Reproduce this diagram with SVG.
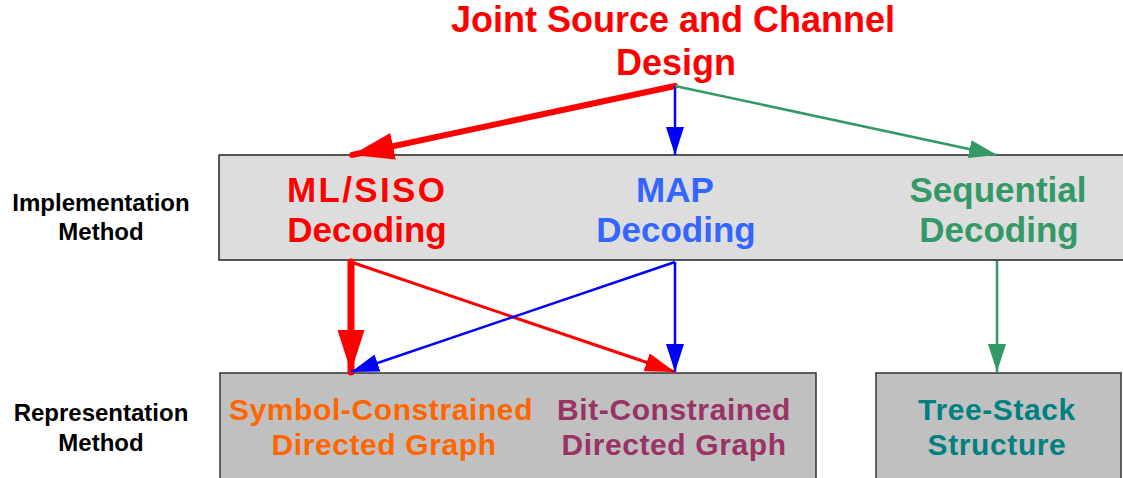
<svg xmlns="http://www.w3.org/2000/svg" width="1123" height="478" viewBox="0 0 1123 478">
  <style>
    text { font-family: "Liberation Sans", Arial, sans-serif; font-weight: bold; text-anchor: middle; }
    .title { font-size: 36px; fill: #FF0000; }
    .impl { font-size: 35px; }
    .repr { font-size: 30px; letter-spacing: 0.6px; }
    .side { font-size: 24px; fill: #000; }
    .box-impl { fill: #DDDDDD; stroke: #222; stroke-width: 1.5; }
    .box-repr { fill: #C0C0C0; stroke: #333; stroke-width: 1.5; }
    .edge { fill: none; }
  </style>
  <defs>
    <marker id="head-red-thick" markerUnits="userSpaceOnUse" viewBox="0 0 42 27" refX="42" refY="13.5" markerWidth="42" markerHeight="27" orient="auto">
      <path d="M0,0 L42,13.5 L0,27 z" fill="#FF0000"/>
    </marker>
    <marker id="head-red" markerUnits="userSpaceOnUse" viewBox="0 0 30 19" refX="30" refY="9.5" markerWidth="30" markerHeight="19" orient="auto">
      <path d="M0,0 L30,9.5 L0,19 z" fill="#FF0000"/>
    </marker>
    <marker id="head-blue" markerUnits="userSpaceOnUse" viewBox="0 0 28 18" refX="28" refY="9" markerWidth="28" markerHeight="18" orient="auto">
      <path d="M0,0 L28,9 L0,18 z" fill="#0000FF"/>
    </marker>
    <marker id="head-green" markerUnits="userSpaceOnUse" viewBox="0 0 28 18" refX="28" refY="9" markerWidth="28" markerHeight="18" orient="auto">
      <path d="M0,0 L28,9 L0,18 z" fill="#339966"/>
    </marker>
  </defs>

  <rect width="1123" height="478" fill="#FFFFFF"/>

  <!-- row labels -->
  <g id="label-implementation">
    <text class="side" x="101" y="211">Implementation</text>
    <text class="side" x="101" y="240">Method</text>
  </g>
  <g id="label-representation">
    <text class="side" x="101" y="421">Representation</text>
    <text class="side" x="101" y="451">Method</text>
  </g>

  <!-- root -->
  <g id="joint-design">
    <text class="title" x="673" y="32">Joint Source and Channel</text>
    <text class="title" x="676" y="75">Design</text>
  </g>

  <!-- implementation layer -->
  <g id="implementation">
    <rect class="box-impl" x="219" y="155" width="915" height="105"/>
    <g id="ml-siso">
      <text class="impl" x="366" y="202" fill="#FF0000" textLength="158" lengthAdjust="spacing">ML/SISO</text>
      <text class="impl" x="367" y="242" fill="#FF0000">Decoding</text>
    </g>
    <g id="map">
      <text class="impl" x="675" y="202" fill="#3366FF">MAP</text>
      <text class="impl" x="676" y="242" fill="#3366FF">Decoding</text>
    </g>
    <g id="sequential">
      <text class="impl" x="998" y="202" fill="#339966">Sequential</text>
      <text class="impl" x="999" y="242" fill="#339966">Decoding</text>
    </g>
  </g>

  <!-- representation layer -->
  <g id="directed-graphs">
    <rect class="box-repr" x="220" y="373" width="596" height="120"/>
    <g id="symbol-graph">
      <text class="repr" x="381" y="420" fill="#FF6600">Symbol-Constrained</text>
      <text class="repr" x="384" y="455" fill="#FF6600">Directed Graph</text>
    </g>
    <g id="bit-graph">
      <text class="repr" x="674" y="420" fill="#993366">Bit-Constrained</text>
      <text class="repr" x="674" y="455" fill="#993366">Directed Graph</text>
    </g>
  </g>
  <g id="tree-stack">
    <rect class="box-repr" x="876" y="373" width="245" height="120"/>
    <text class="repr" x="997" y="420" fill="#008080">Tree-Stack</text>
    <text class="repr" x="997" y="455" fill="#008080">Structure</text>
  </g>

  <!-- connectors -->
  <g id="connectors" class="edge">
    <path d="M675,86 L352,155" stroke="#FF0000" stroke-width="6" stroke-linecap="round" marker-end="url(#head-red-thick)"/>
    <path d="M675,86 L675,155" stroke="#0000FF" stroke-width="2.5" marker-end="url(#head-blue)"/>
    <path d="M675,86 L997,155" stroke="#339966" stroke-width="2.5" marker-end="url(#head-green)"/>

    <path d="M351,262 L351,372" stroke="#FF0000" stroke-width="7" stroke-linecap="round" marker-end="url(#head-red-thick)"/>
    <path d="M351,262 L675,372" stroke="#FF0000" stroke-width="3" marker-end="url(#head-red)"/>
    <path d="M675,262 L675,372" stroke="#0000FF" stroke-width="2.5" marker-end="url(#head-blue)"/>
    <path d="M675,262 L351,372" stroke="#0000FF" stroke-width="2.5" marker-end="url(#head-blue)"/>
    <path d="M997,261 L997,372" stroke="#339966" stroke-width="2.5" marker-end="url(#head-green)"/>
  </g>
</svg>
